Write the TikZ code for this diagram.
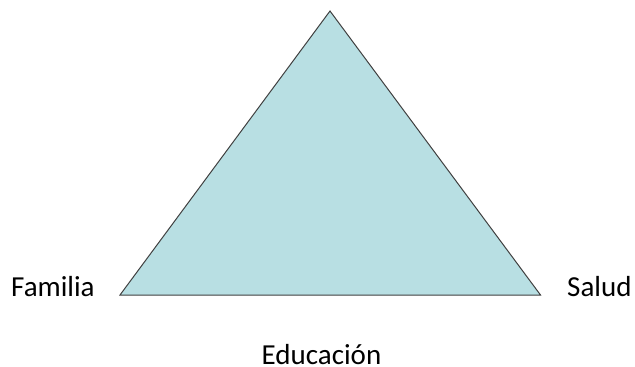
\documentclass[tikz,border=0pt]{standalone}
\usepackage{fontspec}
\setmainfont{Carlito}
\definecolor{trifill}{RGB}{184,223,227}
\definecolor{triline}{RGB}{64,64,64}
\begin{document}
\begin{tikzpicture}[x=1pt,y=-1pt,
  lbl/.style={font=\fontsize{29}{31}\selectfont, inner sep=0pt, text=black}]
\useasboundingbox (0,0) rectangle (635,367);
\coordinate (top) at (330,11);
\coordinate (bl) at (120,295);
\coordinate (br) at (540.5,295);
\filldraw[fill=trifill, draw=triline, line width=1pt, line join=miter] (top) -- (br) -- (bl) -- cycle;
\node[lbl, anchor=base west] (familia) at (11,296) {Familia};
\node[lbl, anchor=base west] (salud) at (567,296) {Salud};
\node[lbl, anchor=base] (educacion) at (321.5,364.5) {Educación};
\end{tikzpicture}
\end{document}
